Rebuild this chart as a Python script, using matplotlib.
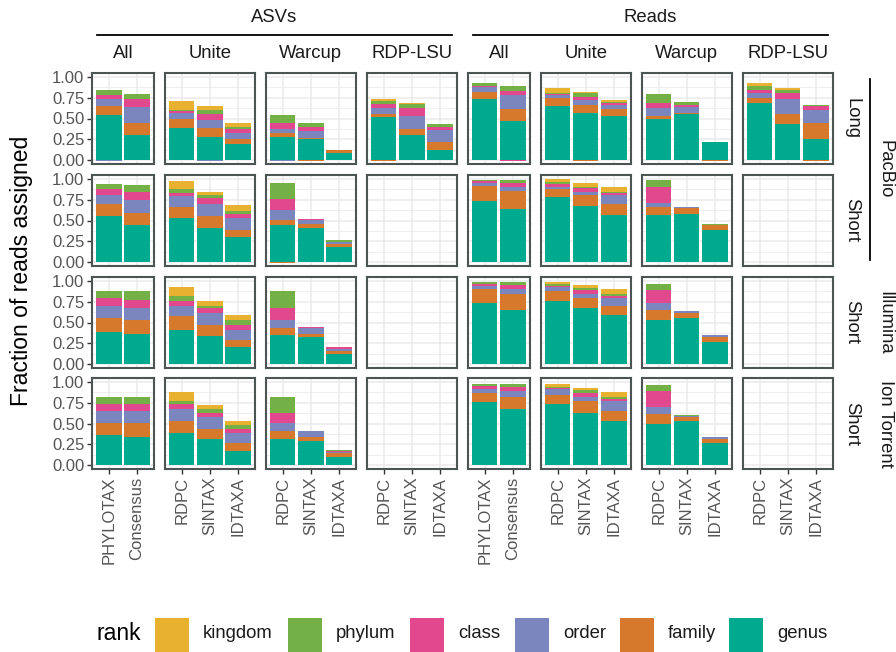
import matplotlib
matplotlib.use("Agg")
import matplotlib.pyplot as plt
from matplotlib.patches import Rectangle
from matplotlib.lines import Line2D
import numpy as np

plt.rcParams['font.family'] = ['Liberation Sans', 'DejaVu Sans']

# ranks, stacked bottom -> top
ranks = ["genus", "family", "order", "class", "phylum", "kingdom"]
rank_colors = {
    "genus": "#00AA8F",
    "family": "#D6792D",
    "order": "#7A86BD",
    "class": "#E1488E",
    "phylum": "#73B147",
    "kingdom": "#E8B12F",
}
legend_order = ["kingdom", "phylum", "class", "order", "family", "genus"]

refs = ["All", "Unite", "Warcup", "RDP-LSU"]
all_methods = ["PHYLOTAX", "Consensus"]
ref_methods = ["RDPC", "SINTAX", "IDTAXA"]
row_tech = ["PacBio", "PacBio", "Illumina", "Ion Torrent"]
row_amplicon = ["Long", "Short", "Short", "Short"]

# cumulative fraction assigned at genus, family, order, class, phylum, kingdom
pacbio_long_asvs = {
    "All": [[0.54, 0.65, 0.74, 0.79, 0.84, 0.84],
            [0.30, 0.445, 0.64, 0.74, 0.80, 0.80]],
    "Unite": [[0.38, 0.49, 0.565, 0.59, 0.605, 0.71],
              [0.28, 0.38, 0.48, 0.55, 0.60, 0.65],
              [0.19, 0.25, 0.33, 0.37, 0.395, 0.44]],
    "Warcup": [[0.28, 0.32, 0.37, 0.445, 0.545, 0.545],
               [0.25, 0.27, 0.345, 0.395, 0.44, 0.44],
               [0.085, 0.115, 0.125, 0.125, 0.125, 0.125]],
    "RDP-LSU": [[0.52, 0.55, 0.625, 0.67, 0.715, 0.74],
                [0.30, 0.37, 0.525, 0.625, 0.67, 0.69],
                [0.125, 0.21, 0.355, 0.395, 0.43, 0.43]],
}
pacbio_long_reads = {
    "All": [[0.735, 0.815, 0.885, 0.895, 0.93, 0.93],
            [0.465, 0.62, 0.785, 0.835, 0.895, 0.895]],
    "Unite": [[0.65, 0.745, 0.785, 0.795, 0.81, 0.87],
              [0.57, 0.66, 0.72, 0.765, 0.81, 0.82],
              [0.525, 0.61, 0.66, 0.685, 0.695, 0.72]],
    "Warcup": [[0.495, 0.525, 0.625, 0.685, 0.795, 0.795],
               [0.55, 0.57, 0.64, 0.66, 0.70, 0.70],
               [0.21, 0.21, 0.22, 0.22, 0.22, 0.22]],
    "RDP-LSU": [[0.685, 0.745, 0.81, 0.85, 0.895, 0.93],
                [0.43, 0.55, 0.74, 0.81, 0.85, 0.87],
                [0.25, 0.445, 0.60, 0.65, 0.665, 0.665]],
}
pacbio_short_asvs = {
    "All": [[0.555, 0.70, 0.805, 0.88, 0.94, 0.94],
            [0.44, 0.585, 0.75, 0.845, 0.925, 0.925]],
    "Unite": [[0.53, 0.66, 0.80, 0.83, 0.88, 0.98],
              [0.415, 0.555, 0.70, 0.775, 0.805, 0.845],
              [0.295, 0.39, 0.53, 0.58, 0.61, 0.685]],
    "Warcup": [[0.44, 0.505, 0.63, 0.755, 0.95, 0.95],
               [0.415, 0.455, 0.505, 0.515, 0.515, 0.515],
               [0.175, 0.22, 0.24, 0.24, 0.26, 0.26]],
    "RDP-LSU": [],
}
pacbio_short_reads = {
    "All": [[0.735, 0.92, 0.95, 0.975, 0.99, 0.99],
            [0.635, 0.855, 0.905, 0.95, 0.99, 0.99]],
    "Unite": [[0.78, 0.885, 0.91, 0.94, 0.965, 1.0],
              [0.675, 0.805, 0.845, 0.895, 0.905, 0.95],
              [0.565, 0.70, 0.805, 0.83, 0.845, 0.905]],
    "Warcup": [[0.565, 0.66, 0.71, 0.905, 0.99, 0.99],
               [0.58, 0.65, 0.665, 0.665, 0.665, 0.665],
               [0.385, 0.44, 0.44, 0.44, 0.455, 0.455]],
    "RDP-LSU": [],
}
illumina_short_asvs = {
    "All": [[0.385, 0.56, 0.705, 0.795, 0.88, 0.88],
            [0.36, 0.53, 0.68, 0.77, 0.88, 0.88]],
    "Unite": [[0.415, 0.575, 0.705, 0.755, 0.82, 0.925],
              [0.335, 0.465, 0.61, 0.675, 0.705, 0.755],
              [0.20, 0.285, 0.415, 0.465, 0.53, 0.585]],
    "Warcup": [[0.345, 0.43, 0.535, 0.675, 0.88, 0.88],
               [0.32, 0.365, 0.43, 0.445, 0.445, 0.445],
               [0.125, 0.15, 0.18, 0.20, 0.20, 0.20]],
    "RDP-LSU": [],
}
illumina_short_reads = {
    "All": [[0.73, 0.90, 0.94, 0.965, 0.99, 0.99],
            [0.65, 0.85, 0.90, 0.95, 0.99, 0.99]],
    "Unite": [[0.755, 0.875, 0.925, 0.94, 0.965, 0.99],
              [0.68, 0.80, 0.85, 0.89, 0.915, 0.95],
              [0.585, 0.70, 0.80, 0.825, 0.85, 0.90]],
    "Warcup": [[0.53, 0.65, 0.73, 0.89, 0.97, 0.97],
               [0.55, 0.61, 0.635, 0.635, 0.635, 0.635],
               [0.27, 0.32, 0.345, 0.345, 0.345, 0.345]],
    "RDP-LSU": [],
}
iontorrent_short_asvs = {
    "All": [[0.355, 0.51, 0.655, 0.73, 0.825, 0.825],
            [0.34, 0.51, 0.65, 0.73, 0.825, 0.825]],
    "Unite": [[0.38, 0.535, 0.67, 0.73, 0.775, 0.875],
              [0.31, 0.435, 0.575, 0.63, 0.67, 0.72],
              [0.17, 0.26, 0.38, 0.43, 0.48, 0.535]],
    "Warcup": [[0.315, 0.405, 0.51, 0.63, 0.825, 0.825],
               [0.29, 0.34, 0.405, 0.415, 0.415, 0.415],
               [0.10, 0.14, 0.16, 0.17, 0.18, 0.18]],
    "RDP-LSU": [],
}
iontorrent_short_reads = {
    "All": [[0.755, 0.865, 0.915, 0.955, 0.98, 0.98],
            [0.67, 0.825, 0.89, 0.94, 0.98, 0.98]],
    "Unite": [[0.73, 0.85, 0.915, 0.93, 0.945, 0.98],
              [0.63, 0.77, 0.825, 0.865, 0.90, 0.93],
              [0.535, 0.655, 0.77, 0.795, 0.82, 0.875]],
    "Warcup": [[0.50, 0.62, 0.705, 0.89, 0.97, 0.97],
               [0.535, 0.575, 0.59, 0.59, 0.605, 0.605],
               [0.265, 0.315, 0.34, 0.34, 0.34, 0.34]],
    "RDP-LSU": [],
}

# small negative pieces stacked below zero: (row, count type, ref, bar, rank, value)
below_zero = [
    (0, "ASVs", "All", 0, "order", -0.012),
    (0, "ASVs", "Unite", 1, "order", -0.012),
    (0, "ASVs", "Warcup", 0, "order", -0.012),
    (0, "ASVs", "Warcup", 1, "family", -0.012),
    (0, "ASVs", "RDP-LSU", 0, "family", -0.012),
    (0, "Reads", "All", 1, "class", -0.012),
    (0, "Reads", "Unite", 1, "family", -0.012),
    (0, "Reads", "Warcup", 2, "family", -0.012),
    (0, "Reads", "RDP-LSU", 2, "family", -0.012),
    (1, "ASVs", "Warcup", 0, "family", -0.012),
]

grid = [
    {"ASVs": pacbio_long_asvs, "Reads": pacbio_long_reads},
    {"ASVs": pacbio_short_asvs, "Reads": pacbio_short_reads},
    {"ASVs": illumina_short_asvs, "Reads": illumina_short_reads},
    {"ASVs": iontorrent_short_asvs, "Reads": iontorrent_short_reads},
]

W, H = 896, 652
fig = plt.figure(figsize=(W / 100, H / 100), dpi=100)

def fbox(x0, y0, w, h):
    # pixel box (top-left origin) -> figure fraction
    return [x0 / W, 1 - (y0 + h) / H, w / W, h / H]

panel_left0 = 92
gap = 11
unit_w = 90 / 3.2
row_top = [73, 175, 277, 378]
row_h = 91
border_col = "#4D5454"
tick_col = "#555555"

col_spans = {}
for r in range(4):
    x = panel_left0
    for count in ["ASVs", "Reads"]:
        for ref in refs:
            methods = all_methods if ref == "All" else ref_methods
            n = len(methods)
            w = unit_w * (n + 0.2)
            ax = fig.add_axes(fbox(x, row_top[r], w, row_h))
            col_spans[(count, ref)] = (x, x + w)
            x += w + gap

            bars = grid[r][count][ref]
            pos = np.arange(1, n + 1)
            for i, cum in enumerate(bars):
                seg = np.diff(np.concatenate([[0.0], cum]))
                bottom = 0.0
                for k, rk in enumerate(ranks):
                    if seg[k] > 0:
                        ax.bar(pos[i], seg[k], bottom=bottom, width=0.9,
                               color=rank_colors[rk], linewidth=0, zorder=2)
                        bottom += seg[k]
            for (rr, cc, rf, bi, rk, val) in below_zero:
                if rr == r and cc == count and rf == ref:
                    ax.bar(pos[bi], val, width=0.9, color=rank_colors[rk],
                           linewidth=0, zorder=2)

            ax.set_xlim(0.4, n + 0.6)
            ax.set_ylim(-0.05, 1.05)
            ax.set_xticks(pos)
            ax.set_yticks([0, 0.25, 0.5, 0.75, 1.0])
            ax.set_yticks([0.125, 0.375, 0.625, 0.875], minor=True)
            ax.grid(which="major", color="#EBEBEB", lw=1.1, zorder=0)
            ax.grid(which="minor", axis="y", color="#EBEBEB", lw=0.55, zorder=0)
            ax.set_axisbelow(True)
            for s in ax.spines.values():
                s.set_color(border_col)
                s.set_linewidth(1.5)
                s.set_zorder(3)
            ax.tick_params(which="minor", length=0)
            ax.tick_params(which="major", length=3.5, width=1, color="#333333",
                           labelcolor=tick_col, labelsize=12, pad=2)

            first = (count == "ASVs" and ref == "All")
            if first:
                ax.set_yticklabels(["0.00", "0.25", "0.50", "0.75", "1.00"])
            else:
                ax.tick_params(axis="y", left=False, labelleft=False)
            if r == 3:
                ax.set_xticklabels(methods, rotation=90, va="top", ha="center")
            else:
                ax.tick_params(axis="x", bottom=False, labelbottom=False)

            if r == 0:
                fig.text((col_spans[(count, ref)][0] + w / 2) / W, 1 - 53 / H, ref,
                         ha="center", va="center", fontsize=13.3, color="#1A1A1A")

# top strip: count type
for count in ["ASVs", "Reads"]:
    x0 = col_spans[(count, "All")][0]
    x1 = col_spans[(count, "RDP-LSU")][1]
    fig.text((x0 + x1) / 2 / W, 1 - 17 / H, count, ha="center", va="center",
             fontsize=13.3, color="#1A1A1A")
    fig.add_artist(Line2D([(x0 + 5) / W, (x1 - 5) / W], [1 - 35 / H, 1 - 35 / H],
                          color="black", lw=1.3))

# right strips
for r in range(4):
    yc = row_top[r] + row_h / 2
    fig.text(852 / W, 1 - yc / H, row_amplicon[r], rotation=-90, ha="center",
             va="center", fontsize=13.3, color="#1A1A1A")
techs = []
for r, t in enumerate(row_tech):
    if techs and techs[-1][0] == t:
        techs[-1][2] = r
    else:
        techs.append([t, r, r])
for t, r0, r1 in techs:
    y0 = row_top[r0]
    y1 = row_top[r1] + row_h
    fig.text(885 / W, 1 - (y0 + y1) / 2 / H, t, rotation=-90, ha="center",
             va="center", fontsize=13.3, color="#1A1A1A")
    if r1 > r0:
        fig.add_artist(Line2D([870 / W, 870 / W], [1 - (y0 + 6) / H, 1 - (y1 - 6) / H],
                              color="black", lw=1.3))

# y axis title
fig.text(22 / W, 1 - (row_top[0] + row_top[3] + row_h) / 2 / H,
         "Fraction of reads assigned", rotation=90, ha="center", va="center",
         fontsize=16.5, color="black")

# legend
key_x = [155, 288, 410, 515, 620, 729]
fig.text(96 / W, 1 - 634 / H, "rank", ha="left", va="center", fontsize=16.5)
for kx, rk in zip(key_x, legend_order):
    fig.add_artist(Rectangle((kx / W, 1 - 652 / H), 34 / W, 34 / H,
                             transform=fig.transFigure, color=rank_colors[rk], lw=0))
    fig.text((kx + 48) / W, 1 - 634 / H, rk, ha="left", va="center",
             fontsize=13.3, color="#1A1A1A")

fig.savefig("out.png", dpi=100)
